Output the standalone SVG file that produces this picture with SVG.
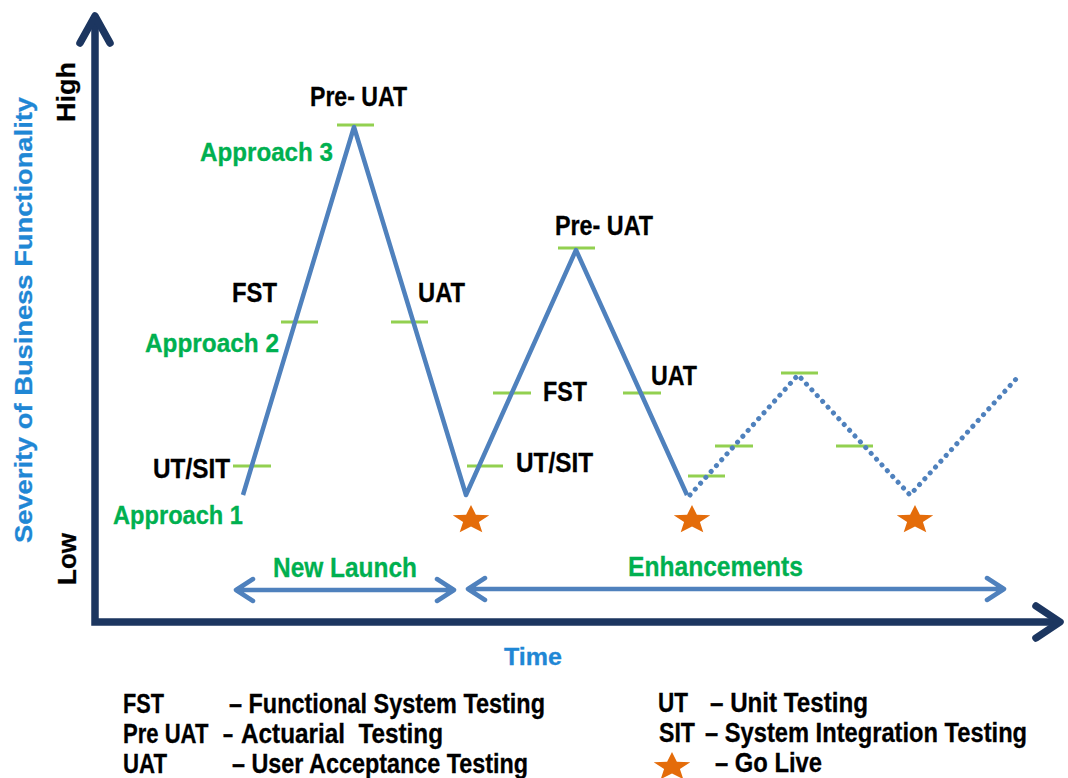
<svg xmlns="http://www.w3.org/2000/svg" width="1068" height="778" viewBox="0 0 1068 778">
  <style>
    text { font-family: "Liberation Sans", Arial, sans-serif; font-weight: bold; }
    .lbl { font-size: 27px; fill: #000000; stroke: #000000; stroke-width: 0.3; }
    .appr { font-size: 25.5px; fill: #00B050; stroke: #00B050; stroke-width: 0.3; }
    .phase { font-size: 27px; fill: #00B050; stroke: #00B050; stroke-width: 0.3; }
    .axtitle { font-size: 24px; fill: #1F87D5; stroke: #1F87D5; stroke-width: 0.3; }
    .axlvl { font-size: 25px; fill: #000000; stroke: #000000; stroke-width: 0.3; }
    .leg { font-size: 27px; fill: #000000; stroke: #000000; stroke-width: 0.3; }
    .axis { fill: none; stroke: #1C3660; stroke-width: 7.5; }
    .curve { fill: none; stroke: #4F81BD; stroke-width: 4.5; stroke-linejoin: round; }
    .dotted { fill: none; stroke: #4F81BD; stroke-width: 5; stroke-linecap: round; stroke-dasharray: 0.1 7.8; }
    .tick { stroke: #92D050; stroke-width: 3.2; }
    .span { fill: none; stroke: #4F81BD; stroke-width: 4.5; stroke-linecap: round; stroke-linejoin: round; }
    .star { fill: #E46C0A; }
  </style>
  <defs>
    <!-- five-point star, slightly widened -->
    <polygon id="goLive" class="star" transform="scale(1.28,1)"
      points="0,-15 3.82,-5.26 14.27,-4.64 6.18,2.01 8.82,12.14 0,6.5 -8.82,12.14 -6.18,2.01 -14.27,-4.64 -3.82,-5.26"/>
  </defs>

  <rect width="1068" height="778" fill="#FFFFFF"/>

  <!-- axes -->
  <g id="axes">
    <path class="axis" d="M95,17 L95,622 L1058,622" stroke-linejoin="miter"/>
    <path class="axis" d="M80,43 L95,16 L110,43" stroke-linecap="round" stroke-linejoin="round"/>
    <path class="axis" d="M1036,606 L1060,622 L1036,638" stroke-linecap="round" stroke-linejoin="round"/>
    <text class="axtitle" transform="translate(32,320) rotate(-90)" text-anchor="middle" textLength="446" lengthAdjust="spacingAndGlyphs">Severity of Business Functionality</text>
    <text class="axlvl" transform="translate(75,92) rotate(-90)" text-anchor="middle" textLength="60" lengthAdjust="spacingAndGlyphs">High</text>
    <text class="axlvl" transform="translate(76,559) rotate(-90)" text-anchor="middle" textLength="52" lengthAdjust="spacingAndGlyphs">Low</text>
    <text class="axtitle" x="504" y="665" textLength="58" lengthAdjust="spacingAndGlyphs">Time</text>
  </g>

  <!-- testing stage markers -->
  <g id="ticks">
    <line class="tick" x1="337" y1="125" x2="374" y2="125"/>
    <line class="tick" x1="281" y1="322" x2="318" y2="322"/>
    <line class="tick" x1="391" y1="322" x2="428" y2="322"/>
    <line class="tick" x1="233" y1="466" x2="271" y2="466"/>
    <line class="tick" x1="467" y1="466" x2="503" y2="466"/>
    <line class="tick" x1="493" y1="393" x2="531" y2="393"/>
    <line class="tick" x1="558" y1="248" x2="595" y2="248"/>
    <line class="tick" x1="623" y1="393" x2="661" y2="393"/>
    <line class="tick" x1="688" y1="476" x2="725" y2="476"/>
    <line class="tick" x1="715" y1="446" x2="753" y2="446"/>
    <line class="tick" x1="781" y1="373" x2="818" y2="373"/>
    <line class="tick" x1="836" y1="446" x2="873" y2="446"/>
  </g>

  <!-- severity curves -->
  <g id="connectors">
    <path id="launchCurve" class="curve" d="M243,495 L354,127 L466,495 L576,250 L687,495"/>
    <path id="futureCurve" class="dotted" d="M690,495 L798,375 L910,495 L1017,378"/>
    <path id="launchSpan" class="span" d="M236,590 L454,590 M253,579 L236,590 L253,601 M437,579 L454,590 L437,601"/>
    <path id="enhanceSpan" class="span" d="M468,589 L1004,589 M485,578 L468,589 L485,600 M987,578 L1004,589 L987,600"/>
  </g>

  <!-- go-live markers -->
  <g id="goLiveMarkers">
    <use href="#goLive" transform="translate(471,520)"/>
    <use href="#goLive" transform="translate(692,520)"/>
    <use href="#goLive" transform="translate(915,520)"/>
  </g>

  <!-- stage labels -->
  <g id="labels">
    <text class="lbl" x="310" y="106" textLength="97" lengthAdjust="spacingAndGlyphs">Pre- UAT</text>
    <text class="appr" x="200" y="161" textLength="133" lengthAdjust="spacingAndGlyphs">Approach 3</text>
    <text class="lbl" x="232" y="302" textLength="45" lengthAdjust="spacingAndGlyphs">FST</text>
    <text class="lbl" x="418" y="302" textLength="47" lengthAdjust="spacingAndGlyphs">UAT</text>
    <text class="appr" x="145" y="352" textLength="134" lengthAdjust="spacingAndGlyphs">Approach 2</text>
    <text class="lbl" x="153" y="478" textLength="77" lengthAdjust="spacingAndGlyphs">UT/SIT</text>
    <text class="appr" x="113" y="524" textLength="130" lengthAdjust="spacingAndGlyphs">Approach 1</text>
    <text class="lbl" x="555" y="235" textLength="98" lengthAdjust="spacingAndGlyphs">Pre- UAT</text>
    <text class="lbl" x="543" y="401" textLength="44" lengthAdjust="spacingAndGlyphs">FST</text>
    <text class="lbl" x="651" y="385" textLength="46" lengthAdjust="spacingAndGlyphs">UAT</text>
    <text class="lbl" x="516" y="472" textLength="77" lengthAdjust="spacingAndGlyphs">UT/SIT</text>
    <text class="phase" x="273" y="577" textLength="144" lengthAdjust="spacingAndGlyphs">New Launch</text>
    <text class="phase" x="628" y="576" textLength="175" lengthAdjust="spacingAndGlyphs">Enhancements</text>
  </g>

  <!-- legend -->
  <g id="legend">
    <text class="leg" x="123" y="713" textLength="41" lengthAdjust="spacingAndGlyphs">FST</text>
    <text class="leg" x="229" y="713" textLength="316" lengthAdjust="spacingAndGlyphs">– Functional System Testing</text>
    <text class="leg" transform="translate(123,743) scale(0.817,1)">Pre UAT</text>
    <text class="leg" x="223" y="743" textLength="10" lengthAdjust="spacingAndGlyphs">–</text>
    <text class="leg" x="241" y="743" xml:space="preserve" textLength="202" lengthAdjust="spacingAndGlyphs">Actuarial  Testing</text>
    <text class="leg" x="123" y="773" textLength="44" lengthAdjust="spacingAndGlyphs">UAT</text>
    <text class="leg" x="232" y="773" textLength="296" lengthAdjust="spacingAndGlyphs">– User Acceptance Testing</text>
    <text class="leg" x="658" y="712" textLength="30" lengthAdjust="spacingAndGlyphs">UT</text>
    <text class="leg" x="710" y="712" textLength="158" lengthAdjust="spacingAndGlyphs">– Unit Testing</text>
    <text class="leg" x="659" y="742" textLength="36" lengthAdjust="spacingAndGlyphs">SIT</text>
    <text class="leg" transform="translate(705,742) scale(0.878,1)">– System Integration Testing</text>
    <use href="#goLive" transform="translate(672,767)"/>
    <text class="leg" x="715" y="772" textLength="107" lengthAdjust="spacingAndGlyphs">– Go Live</text>
  </g>
</svg>
